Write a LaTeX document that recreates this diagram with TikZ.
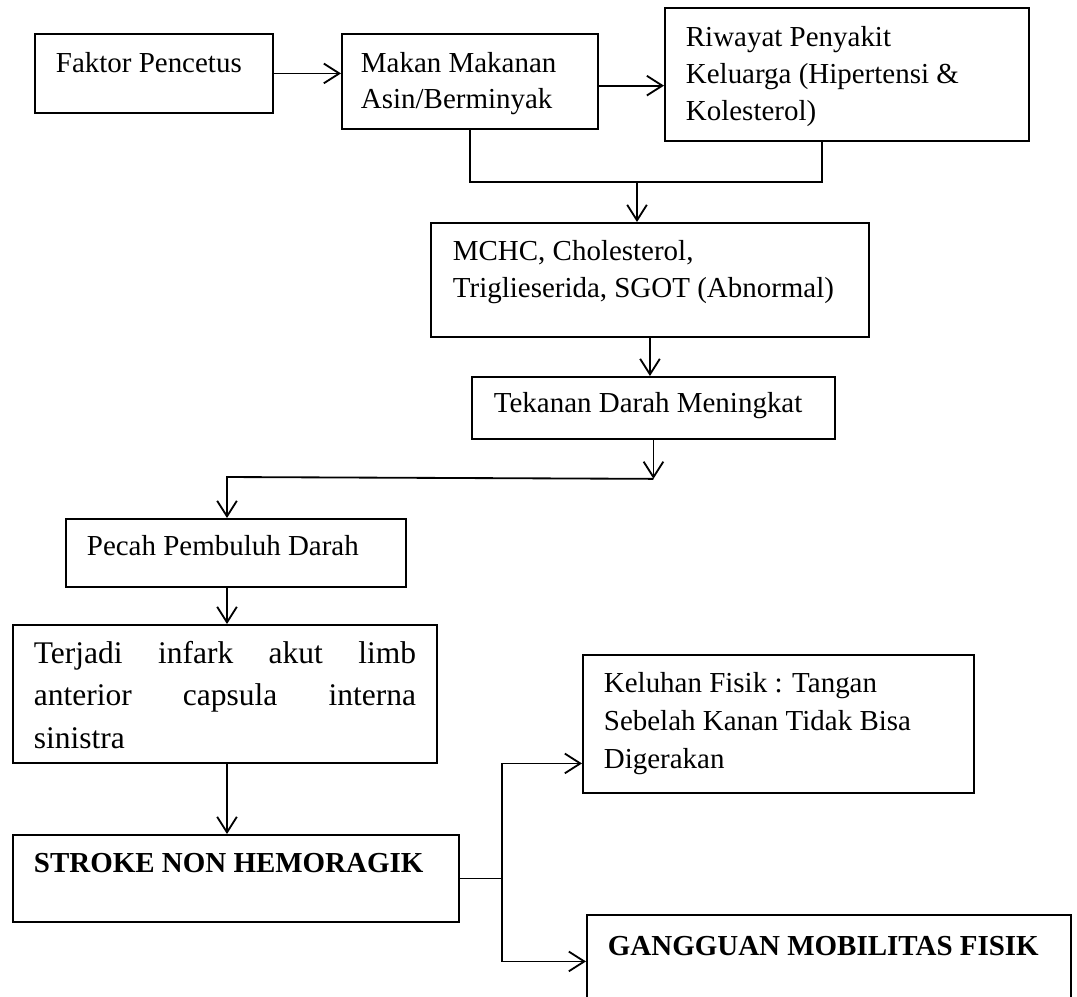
\documentclass[tikz,border=0pt]{standalone}
\usepackage{fontspec}
\setmainfont{Liberation Serif}
\usetikzlibrary{arrows.meta,positioning,calc}

\tikzset{
  kotak/.style={rectangle,draw=black,line width=1.3pt,anchor=north west,inner sep=0pt},
  teks/.style={anchor=base west,inner sep=0pt,align=left,font=\fontsize{20.6}{26.3}\selectfont},
}

\begin{document}
\begin{tikzpicture}[x=0.025cm,y=-0.025cm,line width=1.3pt,>={Straight Barb[length=11pt,width=14pt]}]
  \useasboundingbox (0,0) rectangle (1077,996);

  % kotak-kotak
  \node (faktor)   [kotak,minimum width=5.95cm,minimum height=1.975cm]  at (34,33)  {};
  \node (makan)    [kotak,minimum width=6.4cm,minimum height=2.375cm]   at (341,33) {};
  \node (riwayat)  [kotak,minimum width=9.1cm,minimum height=3.325cm]   at (664,7)  {};
  \node (mchc)     [kotak,minimum width=10.95cm,minimum height=2.85cm]  at (430,222) {};
  \node (tekanan)  [kotak,minimum width=9.075cm,minimum height=1.55cm]  at (471,376) {};
  \node (pecah)    [kotak,minimum width=8.5cm,minimum height=1.7cm]     at (65,518) {};
  \node (terjadi)  [kotak,minimum width=10.6cm,minimum height=3.45cm]   at (12,624) {};
  \node (stroke)   [kotak,minimum width=11.15cm,minimum height=2.175cm] at (12,834) {};
  \node (keluhan)  [kotak,minimum width=9.775cm,minimum height=3.45cm]  at (582,654) {};
  \node (gangguan) [kotak,minimum width=12.1cm,minimum height=2.5cm]    at (586,914) {};

  % isi teks (base = baris terakhir)
  \node (faktor-t)   [teks] at (55,72)   {Faktor Pencetus};
  \node (makan-t)    [teks,font=\fontsize{20.6}{25.6}\selectfont] at (360,108) {Makan Makanan\\Asin/Berminyak};
  \node (riwayat-t)  [teks] at (685,120) {Riwayat Penyakit\\Keluarga (Hipertensi \&\\Kolesterol)};
  \node (mchc-t)     [teks] at (452,297) {MCHC, Cholesterol,\\Triglieserida, SGOT (Abnormal)};
  \node (tekanan-t)  [teks] at (493,412) {Tekanan Darah Meningkat};
  \node (pecah-t)    [teks] at (86,555)  {Pecah Pembuluh Darah};
  \node (terjadi-t)  [teks,font=\fontsize{22.4}{30.2}\selectfont] at (33,748)
    {\makebox[9.55cm][s]{Terjadi infark akut limb}\\\makebox[9.55cm][s]{anterior capsula interna}\\sinistra};
  \node (stroke-t)   [teks,font=\fontsize{20.6}{26.3}\selectfont\bfseries] at (33,872) {STROKE NON HEMORAGIK};
  \node (keluhan-t)  [teks,font=\fontsize{20.6}{27}\selectfont] at (603,768) {Keluhan Fisik : Tangan\\Sebelah Kanan Tidak Bisa\\Digerakan};
  \node (gangguan-t) [teks,font=\fontsize{20.6}{26.3}\selectfont\bfseries] at (607,955) {GANGGUAN MOBILITAS FISIK};

  % titik bantu
  \coordinate (gabung) at (637,182);
  \coordinate (belok) at ($(tekanan.south)+(0,39)$);
  \coordinate (jalur) at (227,477);
  \coordinate (cabang) at ($(stroke.east)+(42,0)$);
  \coordinate (atas) at ($(cabang)+(0,-115)$);
  \coordinate (bawah) at ($(cabang)+(0,83)$);

  % panah
  \draw[->] (faktor.east) -- (faktor.east -| makan.west);
  \draw[->] ([yshift=-3pt]makan.east) -- ([yshift=-3pt]makan.east -| riwayat.west);
  \draw (makan.south) |- (gabung) -| ([xshift=-18pt]riwayat.south);
  \draw[->] (gabung) -- (gabung |- mchc.north);
  \draw[->] (mchc.south) -- (mchc.south |- tekanan.north);
  \draw[->] (tekanan.south) -- (belok);
  \draw[->] (belok) -- (jalur) -- (jalur |- pecah.north);
  \draw[->] (pecah.south -| jalur) -- (terjadi.north -| jalur);
  \draw[->] (terjadi.south -| jalur) -- (stroke.north -| jalur);
  \draw (stroke.east) -- (cabang);
  \draw[->] (cabang) -- (atas) -- (atas -| keluhan.west);
  \draw[->] (cabang) -- (bawah) -- (bawah -| gangguan.west);

\end{tikzpicture}
\end{document}
